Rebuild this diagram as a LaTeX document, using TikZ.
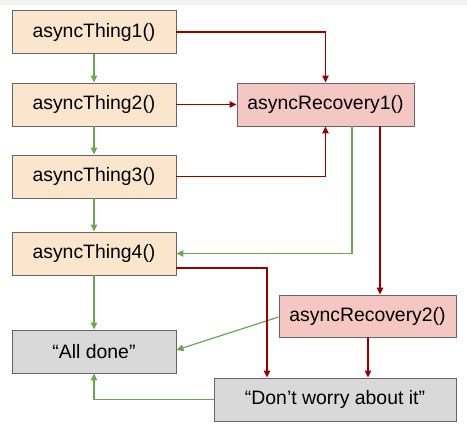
\documentclass[tikz,border=0pt]{standalone}
\usepackage{fontspec}
\setmainfont{Liberation Sans}
\usetikzlibrary{arrows.meta}
\definecolor{thingfill}{HTML}{FCE5CD}
\definecolor{recfill}{HTML}{F4C7C3}
\definecolor{donefill}{HTML}{D9D9D9}
\definecolor{boxline}{HTML}{666666}
\definecolor{redline}{HTML}{990000}
\definecolor{greenline}{HTML}{6AA84F}
\definecolor{topband}{HTML}{F1F3F4}
\tikzset{
  box/.style={draw=boxline, line width=0.9pt, inner sep=0pt, font=\fontsize{19.4}{21}\selectfont},
  thing/.style={box, fill=thingfill, minimum width=164pt, minimum height=43pt},
  rec/.style={box, fill=recfill, minimum height=43pt},
  done/.style={box, fill=donefill, minimum height=43pt},
  ok/.style={draw=greenline, line width=1.2pt, -{Triangle[length=7pt,width=6.5pt]}},
  bad/.style={draw=redline, line width=1.2pt, -{Triangle[length=7pt,width=6.5pt]}},
}
\begin{document}
\begin{tikzpicture}[x=1pt,y=-1pt]
\useasboundingbox (0,0) rectangle (467,432);
\fill[white] (0,0) rectangle (467,432);
\fill[topband] (0,0) rectangle (467,5);
\node[thing] (t1) at (94,32) {asyncThing1()};
\node[thing] (t2) at (94,104.5) {asyncThing2()};
\node[thing] (t3) at (94,176.5) {asyncThing3()};
\node[thing] (t4) at (94,253.5) {asyncThing4()};
\node[done, minimum width=164pt] (ad) at (94,351.5) {“All done”};
\node[rec, minimum width=177pt] (r1) at (325.5,104.5) {asyncRecovery1()};
\node[rec, minimum width=177pt, minimum height=42pt] (r2) at (367.5,316) {asyncRecovery2()};
\node[done, minimum width=242pt] (dw) at (335,399.5) {“Don’t worry about it”};
% green flow
\draw[ok] (t1.south) -- (t2.north);
\draw[ok] (t2.south) -- (t3.north);
\draw[ok] (t3.south) -- (t4.north);
\draw[ok] (t4.south) -- (ad.north);
\draw[ok] (r1.south -| 352,0) |- (t4.east);
\draw[ok] (r2.west |- 0,317) -- (ad.east |- 0,350);
\draw[ok] (dw.west) -| (ad.south);
% red flow
\draw[bad] (t1.east) -| (r1.north);
\draw[bad] (t2.east) -- (r1.west);
\draw[bad] (t3.east) -| (r1.south);
\draw[bad] (r1.south -| 380,0) -- (r2.north -| 380,0);
\draw[bad] (t4.east |- 0,268) -| (dw.north -| 267,0);
\draw[bad] (r2.south -| 368,0) -- (dw.north -| 368,0);
\end{tikzpicture}
\end{document}
